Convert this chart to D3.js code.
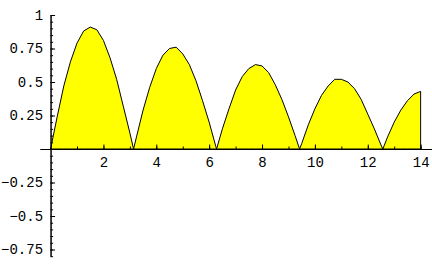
<!DOCTYPE html>
<html>
<head>
<meta charset="utf-8">
<script src="https://cdn.jsdelivr.net/npm/d3@7"></script>
<style>
  body { margin: 0; background: #fff; }
  svg { display: block; }
  .tick text { font-family: "Liberation Mono", "Courier New", monospace; font-size: 14px; fill: #000; }
</style>
</head>
<body>
<div id="chart"></div>
<script>
// curve samples
var xs = [0, 0.25, 0.5, 0.75, 1, 1.25, 1.5, 1.75, 2, 2.25, 2.5, 2.75, 3, 3.14,
          3.25, 3.5, 3.75, 4, 4.25, 4.5, 4.75, 5, 5.25, 5.5, 5.75, 6, 6.25, 6.28,
          6.5, 6.75, 7, 7.25, 7.5, 7.75, 8, 8.25, 8.5, 8.75, 9, 9.25, 9.42,
          9.5, 9.75, 10, 10.25, 10.5, 10.75, 11, 11.25, 11.5, 11.75, 12, 12.25, 12.5, 12.57,
          12.75, 13, 13.25, 13.5, 13.75, 14];
var ys = [0, 0.24, 0.47, 0.65, 0.79, 0.88, 0.91, 0.89, 0.81, 0.68, 0.52, 0.32, 0.12, 0,
          0.09, 0.29, 0.46, 0.60, 0.70, 0.75, 0.76, 0.71, 0.63, 0.51, 0.36, 0.20, 0.02, 0,
          0.15, 0.30, 0.44, 0.54, 0.60, 0.63, 0.62, 0.57, 0.48, 0.37, 0.24, 0.10, 0,
          0.04, 0.18, 0.30, 0.40, 0.47, 0.52, 0.52, 0.50, 0.45, 0.37, 0.26, 0.15, 0.03, 0,
          0.09, 0.20, 0.29, 0.36, 0.41, 0.43];
var xMajor = [2, 4, 6, 8, 10, 12, 14];
var xMinor = d3.range(1, 15, 1);
var yMajor = [-0.75, -0.5, -0.25, 0.25, 0.5, 0.75, 1];
var yMinor = d3.range(-16, 21).map(function(i) { return i * 0.05; });

var W = 432, H = 266;
var data = xs.map(function(d, i) { return {x: d, y: ys[i]}; });

var x = d3.scaleLinear().domain([-0.4, 14.43]).range([40, 432]);
var y = d3.scaleLinear().domain([-0.8, 1]).range([256.2, 15]);

var svg = d3.select("#chart").append("svg")
    .attr("width", W)
    .attr("height", H);

var area = d3.area()
    .x(function(d) { return x(d.x); })
    .y0(y(0))
    .y1(function(d) { return y(d.y); });

svg.append("path")
    .datum(data)
    .attr("d", area)
    .attr("fill", "#ffff00")
    .attr("stroke", "#000")
    .attr("stroke-width", 1);

var fmt = function(d) { return d3.format("")(d).replace("-", "\u2212"); };

// x axis
svg.append("g")
    .attr("transform", "translate(0," + y(0) + ")")
    .call(d3.axisBottom(x).tickValues(xMinor).tickSizeInner(-2.5).tickSizeOuter(0).tickFormat(""));
svg.append("g")
    .attr("transform", "translate(0," + y(0) + ")")
    .call(d3.axisBottom(x).tickValues(xMajor).tickSizeInner(-4.5).tickSizeOuter(0).tickPadding(8).tickFormat(fmt));

// y axis
svg.append("g")
    .attr("transform", "translate(" + x(0) + ",0)")
    .call(d3.axisLeft(y).tickValues(yMinor).tickSizeInner(-2.5).tickSizeOuter(0).tickFormat(""));
svg.append("g")
    .attr("transform", "translate(" + x(0) + ",0)")
    .call(d3.axisLeft(y).tickValues(yMajor).tickSizeInner(-4.5).tickSizeOuter(0).tickPadding(7.5).tickFormat(fmt));

svg.selectAll(".domain, .tick line").attr("stroke", "#000");
</script>
</body>
</html>
